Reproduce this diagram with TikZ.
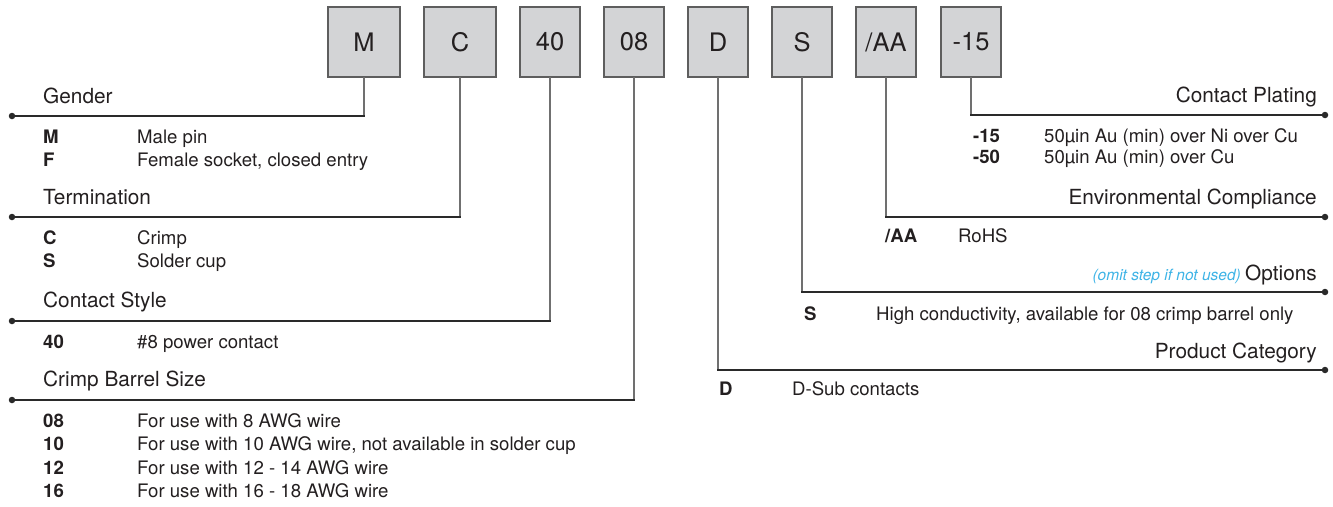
\documentclass[tikz,border=0pt]{standalone}
\usepackage{fontspec}
\setmainfont{TeX Gyre Heros}
\definecolor{boxfill}{HTML}{D3D4D6}
\definecolor{boxline}{HTML}{5E5E5E}
\definecolor{vgray}{HTML}{707070}
\definecolor{hdark}{HTML}{2A2A2A}
\definecolor{txt}{HTML}{231F20}
\definecolor{omitblue}{HTML}{3DB3E6}
\begin{document}
\begin{tikzpicture}[x=1pt,y=-1pt,
  box/.style={draw=boxline, fill=boxfill, line width=1.2pt, minimum height=70pt, minimum width=60pt, inner sep=0pt, font=\fontsize{25.5}{30}\selectfont, text=txt},
  vline/.style={draw=vgray, line width=1.4pt, line cap=rect},
  hline/.style={draw=hdark, line width=1.2pt, line cap=rect},
  lbl/.style={font=\fontsize{20.8}{24}\selectfont, text=txt, inner sep=0pt},
  code/.style={font=\bfseries\fontsize{18.6}{22}\selectfont, text=txt, inner sep=0pt, anchor=base west},
  desc/.style={font=\fontsize{18.6}{22}\selectfont, text=txt, inner sep=0pt, anchor=base west},
  dot/.style={circle, fill=hdark, inner sep=0pt, minimum size=6.5pt},
  omit/.style={font=\itshape\fontsize{15.5}{18}\selectfont, text=omitblue, inner sep=0pt}
]
\useasboundingbox (0,0) rectangle (1333,506);

% code boxes
\node[box, minimum width=72pt] (bM) at (364,42) {M};
\node[box, minimum width=72pt] (bC) at (460,42) {C};
\node[box] (b40) at (550,42) {40};
\node[box] (b08) at (634,42) {08};
\node[box] (bD) at (718,42) {D};
\node[box] (bS) at (802,42) {S};
\node[box] (bAA) at (886,42) {/AA};
\node[box] (b15) at (971,42) {-15};

% end dots
\node[dot] (dGender) at (12,116) {};
\node[dot] (dTerm) at (12,217) {};
\node[dot] (dStyle) at (12,321) {};
\node[dot] (dCrimp) at (12,400) {};
\node[dot] (dPlat) at (1325,115) {};
\node[dot] (dEnv) at (1325,217) {};
\node[dot] (dOpt) at (1325,292) {};
\node[dot] (dProd) at (1325,370) {};

% corners
\coordinate (cM) at (bM.south |- dGender.center);
\coordinate (cC) at (bC.south |- dTerm.center);
\coordinate (c40) at (b40.south |- dStyle.center);
\coordinate (c08) at (b08.south |- dCrimp.center);
\coordinate (cD) at (bD.south |- dProd.center);
\coordinate (cS) at (bS.south |- dOpt.center);
\coordinate (cAA) at (bAA.south |- dEnv.center);
\coordinate (c15) at (b15.south |- dPlat.center);

% connectors
\draw[vline] (bM.south) -- (cM);   \draw[hline] (cM) -- (dGender.center);
\draw[vline] (bC.south) -- (cC);   \draw[hline] (cC) -- (dTerm.center);
\draw[vline] (b40.south) -- (c40); \draw[hline] (c40) -- (dStyle.center);
\draw[vline] (b08.south) -- (c08); \draw[hline] (c08) -- (dCrimp.center);
\draw[vline] (bD.south) -- (cD);   \draw[hline] (cD) -- (dProd.center);
\draw[vline] (bS.south) -- (cS);   \draw[hline] (cS) -- (dOpt.center);
\draw[vline] (bAA.south) -- (cAA); \draw[hline] (cAA) -- (dEnv.center);
\draw[vline] (b15.south) -- (c15); \draw[hline] (c15) -- (dPlat.center);

% left labels
\node[lbl, anchor=base west] (lGender) at (43,103) {Gender};
\node[code] (kM) at (43,143) {M};
\node[desc] (tM) at (137,143) {Male pin};
\node[code] (kF) at (43,166.5) {F};
\node[desc] (tF) at (137,166.5) {Female socket, closed entry};

\node[lbl, anchor=base west] (lTerm) at (43,204) {Termination};
\node[code] (kC) at (43,244) {C};
\node[desc] (tC) at (137,244) {Crimp};
\node[code] (kS) at (43,267.5) {S};
\node[desc] (tS) at (137,267.5) {Solder cup};

\node[lbl, anchor=base west] (lStyle) at (43,307) {Contact Style};
\node[code] (k40) at (43,348) {40};
\node[desc] (t40) at (137,348) {\#8 power contact};

\node[lbl, anchor=base west] (lCrimp) at (43,386) {Crimp Barrel Size};
\node[code] (k08) at (43,427) {08};
\node[desc] (t08) at (137,427) {For use with 8 AWG wire};
\node[code] (k10) at (43,450.5) {10};
\node[desc] (t10) at (137,450.5) {For use with 10 AWG wire, not available in solder cup};
\node[code] (k12) at (43,474) {12};
\node[desc] (t12) at (137,474) {For use with 12 - 14 AWG wire};
\node[code] (k16) at (43,497.5) {16};
\node[desc] (t16) at (137,497.5) {For use with 16 - 18 AWG wire};

% right labels
\node[lbl, anchor=base east] (lPlat) at (1317,102) {Contact Plating};
\node[code] (k15) at (973,142) {-15};
\node[desc] (t15) at (1044,142) {50µin Au (min) over Ni over Cu};
\node[code] (k50) at (973,163.5) {-50};
\node[desc] (t50) at (1044,163.5) {50µin Au (min) over Cu};

\node[lbl, anchor=base east] (lEnv) at (1317,204) {Environmental Compliance};
\node[code] (kAA) at (885,242) {/AA};
\node[desc] (tAA) at (958,242) {RoHS};

\node[lbl, anchor=base east] (lOpt) at (1317,280) {Options};
\node[omit, anchor=base east] (lOmit) at ([xshift=-4pt]lOpt.base west) {(omit step if not used)};
\node[code] (kS2) at (804,320) {S};
\node[desc] (tS2) at (876,320) {High conductivity, available for 08 crimp barrel only};

\node[lbl, anchor=base east] (lProd) at (1317,358) {Product Category};
\node[code] (kD) at (719,395) {D};
\node[desc] (tD) at (792,395) {D-Sub contacts};
\end{tikzpicture}
\end{document}
